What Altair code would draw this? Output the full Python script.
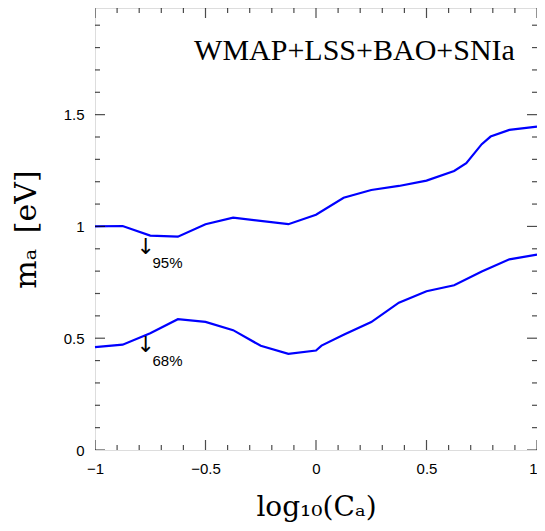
import altair as alt
import pandas as pd

# 95% upper limit curve
upper_x = [-1.0, -0.875, -0.75, -0.625, -0.5, -0.375, -0.125, 0.0, 0.125, 0.25,
           0.375, 0.5, 0.625, 0.68, 0.75, 0.79, 0.875, 1.0]
upper_y = [1.000, 1.002, 0.959, 0.954, 1.010, 1.039, 1.010, 1.052, 1.128, 1.163,
           1.181, 1.205, 1.248, 1.283, 1.368, 1.402, 1.432, 1.446]

# 68% upper limit curve
lower_x = [-1.0, -0.875, -0.75, -0.625, -0.5, -0.375, -0.25, -0.125, 0.0, 0.025,
           0.125, 0.25, 0.375, 0.5, 0.625, 0.75, 0.875, 1.0]
lower_y = [0.460, 0.471, 0.522, 0.585, 0.573, 0.536, 0.466, 0.430, 0.445, 0.467,
           0.515, 0.572, 0.659, 0.710, 0.737, 0.798, 0.853, 0.874]

x_major = [-1.0, -0.5, 0.0, 0.5, 1.0]
x_minor = [-0.9, -0.8, -0.7, -0.6, -0.4, -0.3, -0.2, -0.1,
           0.1, 0.2, 0.3, 0.4, 0.6, 0.7, 0.8, 0.9]
y_major = [0.0, 0.5, 1.0, 1.5]
y_minor = [0.1, 0.2, 0.3, 0.4, 0.6, 0.7, 0.8, 0.9, 1.1, 1.2, 1.3, 1.4,
           1.6, 1.7, 1.8, 1.9]

ann_text = ["95%", "68%"]
ann_x = [-0.74, -0.74]
ann_y = [0.812, 0.376]
arrow_x = [-0.77, -0.77]
arrow_y = [0.908, 0.470]

title_text = "WMAP+LSS+BAO+SNIa"
x_title = "log₁₀(Cₐ)"
y_title = "\u00a0mₐ\u00a0\u2009[eV]"

XMIN, XMAX = -1.0, 1.0
YMIN, YMAX = 0.0, 1.977

rows = []
for i, (x, y) in enumerate(zip(upper_x, upper_y)):
    rows.append({"x": x, "y": y, "series": "95%", "o": i})
for i, (x, y) in enumerate(zip(lower_x, lower_y)):
    rows.append({"x": x, "y": y, "series": "68%", "o": i})
curves = pd.DataFrame(rows)

xs = alt.Scale(domain=[XMIN, XMAX], nice=False, zero=False)
ys = alt.Scale(domain=[YMIN, YMAX], nice=False, zero=False)

lines = alt.Chart(curves).mark_line(color="#0000ff", strokeWidth=2.2).encode(
    x=alt.X("x:Q", scale=xs,
            axis=alt.Axis(values=x_major, format="~g", title=x_title,
                          labelFont="Liberation Sans",
                          labelAlign={"condition": {"test": "datum.value == 1",
                                                    "value": "right"},
                                      "value": "center"},
                          labelFontSize=15, labelPadding=11, titleFont="DejaVu Serif",
                          titleFontSize=28, titleFontWeight="normal", titlePadding=17,
                          ticks=False, tickSize=0, domain=False, grid=False,
                          labelColor="black", titleColor="black", labelFlush=False)),
    y=alt.Y("y:Q", scale=ys,
            axis=alt.Axis(values=y_major, format="~g", title=y_title,
                          labelFont="Liberation Sans",
                          labelFontSize=15, labelPadding=11, titleFont="DejaVu Serif",
                          titleFontSize=30, titleFontWeight="normal", titlePadding=22,
                          ticks=False, tickSize=0, domain=False, grid=False,
                          labelColor="black", titleColor="black", labelFlush=False)),
    detail="series:N",
    order="o:Q",
)

def xticks(vals, size, yval):
    return alt.Chart(pd.DataFrame({"v": vals})).mark_tick(
        orient="vertical", size=size, thickness=1.2, color="black", clip=True
    ).encode(x=alt.X("v:Q", scale=xs), y=alt.datum(yval, scale=ys))

def yticks(vals, size, xval):
    return alt.Chart(pd.DataFrame({"v": vals})).mark_tick(
        orient="horizontal", size=size, thickness=1.2, color="black", clip=True
    ).encode(y=alt.Y("v:Q", scale=ys), x=alt.datum(xval, scale=xs))

tick_layers = [
    xticks(x_major, 20, YMIN), xticks(x_minor, 10, YMIN),
    xticks(x_major, 20, YMAX), xticks(x_minor, 10, YMAX),
    yticks(y_major, 20, XMIN), yticks(y_minor, 10, XMIN),
    yticks(y_major, 20, XMAX), yticks(y_minor, 10, XMAX),
]

ann = pd.DataFrame({"t": ann_text, "x": ann_x, "y": ann_y,
                    "ax": arrow_x, "ay": arrow_y})
labels = alt.Chart(ann).mark_text(align="left", baseline="alphabetic",
                                  font="Liberation Sans", fontSize=15,
                                  color="black").encode(
    x=alt.X("x:Q", scale=xs), y=alt.Y("y:Q", scale=ys), text="t:N")
arrows = alt.Chart(ann).mark_text(align="center", baseline="middle",
                                  font="DejaVu Sans", fontSize=22,
                                  color="black", text="↓").encode(
    x=alt.X("ax:Q", scale=xs), y=alt.Y("ay:Q", scale=ys))

title_df = pd.DataFrame({"t": [title_text], "x": [0.9], "y": [1.744]})
title = alt.Chart(title_df).mark_text(align="right", baseline="alphabetic",
                                      font="Liberation Serif", fontSize=30,
                                      color="black").encode(
    x=alt.X("x:Q", scale=xs), y=alt.Y("y:Q", scale=ys), text="t:N")

chart = alt.layer(lines, *tick_layers, labels, arrows, title).properties(
    width=442, height=442,
    padding={"left": 87, "top": 0, "right": 0, "bottom": 72},
    autosize=alt.AutoSizeParams(type="none"),
).configure_view(stroke="black", strokeWidth=1.5).configure(background="white")

chart.save("out.html", embed_options={"renderer": "svg", "actions": False})
